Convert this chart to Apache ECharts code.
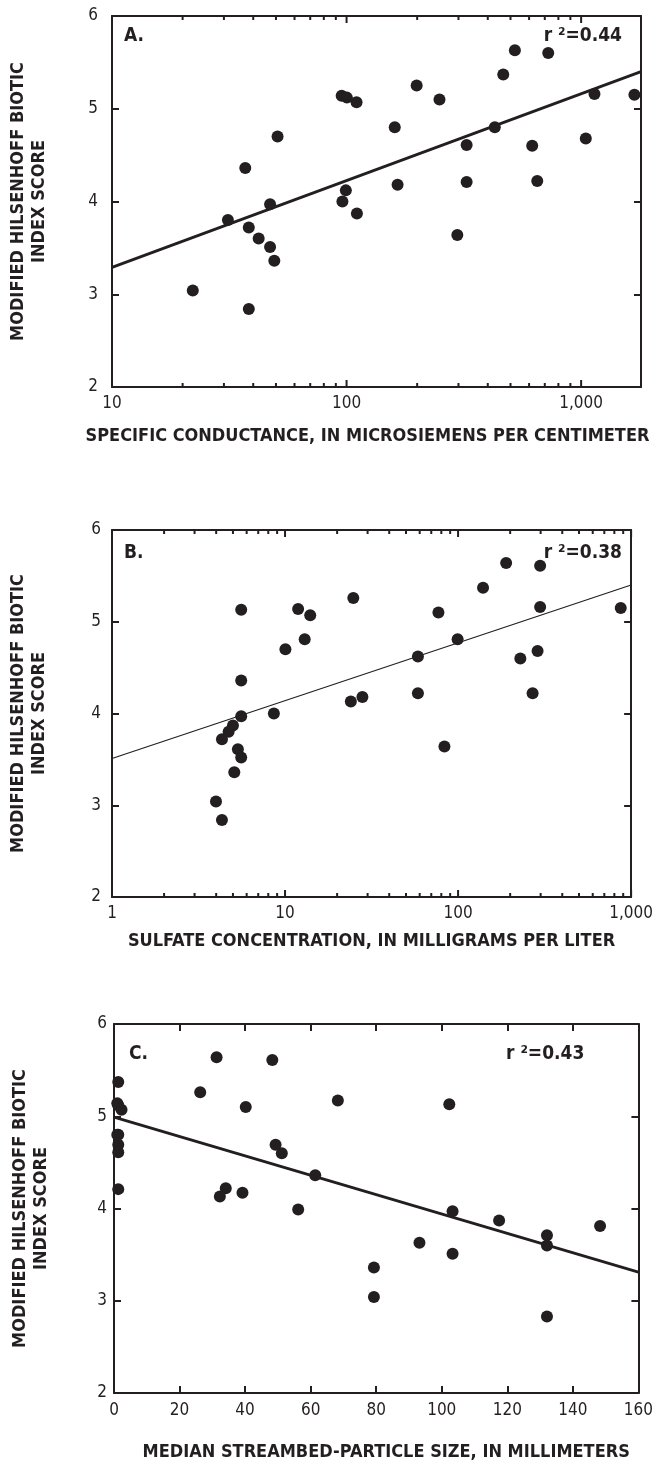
<!DOCTYPE html>
<html><head><meta charset="utf-8">
<script src="https://cdn.jsdelivr.net/npm/echarts@6/dist/echarts.min.js"></script>
<style>html,body{margin:0;padding:0;background:#fff}#c{width:656px;height:1467px}</style>
</head><body><div id="c"></div>
<script>
// ---- Data ----
const conductanceA = [22.1,31.2,37.0,38.3,38.3,42.2,47.2,47.2,49.2,50.8,95.3,100.3,110.3,96,99.3,110.7,160.5,165,199,249,296.6,325,325,428.5,465.6,521.9,618.6,650,724,1047,1140,1687];
const scoreA = [3.04,3.80,4.36,3.72,2.84,3.60,3.97,3.51,3.36,4.70,5.14,5.12,5.07,4.00,4.12,3.87,4.80,4.18,5.25,5.10,3.64,4.61,4.21,4.80,5.37,5.63,4.60,4.22,5.60,4.68,5.16,5.15];
const fitA_x = [10, 1800];
const fitA_y = [3.29, 5.40];

const sulfateB = [5.58,11.9,13.98,24.8,12.99,10.05,5.58,24.0,28.0,189.6,298,139.4,77.0,298,871,99.4,58.6,288,229,58.6,269.6,5.58,8.62,5.0,4.72,4.32,5.34,5.58,5.09,3.99,4.32,83.4];
const scoreB = [5.13,5.14,5.07,5.26,4.81,4.70,4.36,4.13,4.18,5.64,5.61,5.37,5.10,5.16,5.15,4.81,4.62,4.68,4.60,4.22,4.22,3.97,4.00,3.87,3.80,3.72,3.61,3.52,3.36,3.04,2.84,3.64];
const fitB_x = [1, 1000];
const fitB_y = [3.51, 5.40];

const sizeC = [1.3,1.0,1.3,2.3,1.3,1.0,1.3,1.3,1.3,31.3,48.3,26.3,40.2,68.3,49.3,51.2,61.4,34.1,32.3,39.2,56.2,102.3,103.3,117.5,148.3,132.1,132.1,132.1,93.2,103.3,79.3,79.3];
const scoreC = [5.37,5.14,5.12,5.07,4.80,4.80,4.69,4.61,4.21,5.64,5.61,5.26,5.10,5.17,4.69,4.60,4.36,4.22,4.13,4.17,3.99,5.13,3.97,3.87,3.81,3.71,3.60,2.83,3.63,3.51,3.36,3.04];
const fitC_x = [0, 160];
const fitC_y = [4.99, 3.31];

const labelsA = [10, 100, 1000];
const ticksA = [10,20,30,40,50,60,70,80,90,100,200,300,400,500,600,700,800,900,1000];
const labelsB = [1, 10, 100, 1000];
const ticksB = [1,2,3,4,5,6,7,8,9,10,20,30,40,50,60,70,80,90,100,200,300,400,500,600,700,800,900,1000];

const yTitle = 'MODIFIED HILSENHOFF BIOTIC\nINDEX SCORE';
const xTitleA = 'SPECIFIC CONDUCTANCE, IN MICROSIEMENS PER CENTIMETER';
const xTitleB = 'SULFATE CONCENTRATION, IN MILLIGRAMS PER LITER';
const xTitleC = 'MEDIAN STREAMBED-PARTICLE SIZE, IN MILLIMETERS';

// ---- Styling ----
const INK = '#231f20';
const FONT = '"Liberation Sans Narrow","Arial Narrow","DejaVu Sans Condensed",sans-serif';

const chart = echarts.init(document.getElementById('c'), null, {renderer: 'canvas'});

const grids = [
  {left: 111, top: 16, width: 530, height: 371},
  {left: 112, top: 530, width: 524, height: 367},
  {left: 114, top: 1024, width: 528, height: 369}
];

function fmtNum(v) { return v >= 1000 ? v.toLocaleString('en-US') : String(v); }
function isIn(list, v) { return list.some(t => Math.abs(t - v) / t < 1e-6); }

const axisLine = {show: true, onZero: false, lineStyle: {color: INK, width: 2}};
const xAxes = [], yAxes = [];

function addPanel(gi, type, min, max, labelList, name, nameGap, interval, labelMargin, namePad) {
  const base = {gridIndex: gi, type: type, min: min, max: max, splitLine: {show: false}, axisLine: axisLine};
  if (type === 'log') { base.logBase = 10; } else { base.interval = interval; }
  const tickCfg = type === 'log' ? {show: false} : {show: true, inside: true, length: 7, lineStyle: {color: INK, width: 2}};
  xAxes.push(Object.assign({}, base, {
    position: 'bottom',
    axisTick: tickCfg,
    axisLabel: {
      show: true, margin: labelMargin, color: INK, fontFamily: FONT, fontSize: 17,
      formatter: v => (type === 'log' ? (isIn(labelList, v) ? fmtNum(v) : '') : String(v))
    },
    name: name, nameLocation: 'middle', nameGap: nameGap,
    nameTextStyle: {color: INK, fontFamily: FONT, fontWeight: 'bold', fontSize: 18, padding: namePad}
  }));
  xAxes.push(Object.assign({}, base, {position: 'top', axisTick: tickCfg, axisLabel: {show: false}}));
  const yBase = {gridIndex: gi, type: 'value', min: 2, max: 6, interval: 1, splitLine: {show: false}, axisLine: axisLine,
    axisTick: {show: true, inside: true, length: 7, lineStyle: {color: INK, width: 2}}};
  yAxes.push(Object.assign({}, yBase, {
    position: 'left',
    axisLabel: {show: true, margin: [14, 11, 7][gi], color: INK, fontFamily: FONT, fontSize: 17},
    name: yTitle, nameLocation: 'middle', nameGap: 62,
    nameTextStyle: {color: INK, fontFamily: FONT, fontWeight: 'bold', fontSize: 18, lineHeight: 21, align: 'center'}
  }));
  yAxes.push(Object.assign({}, yBase, {position: 'right', axisLabel: {show: false}}));
}

addPanel(0, 'log', 10, 1800, labelsA, xTitleA, 40, null, 8, [0, 18, 0, 0]);
addPanel(1, 'log', 1, 1000, labelsB, xTitleB, 35, null, 8, [0, 0, 0, 0]);
addPanel(2, 'value', 0, 160, null, xTitleC, 50, 20, 9, [0, 0, 0, 20]);

function pairs(xs, ys) { return xs.map((x, i) => [x, ys[i]]); }

function scatterSeries(gi, xs, ys) {
  return {type: 'scatter', xAxisIndex: gi * 2, yAxisIndex: gi * 2, data: pairs(xs, ys),
    symbol: 'circle', symbolSize: 12, itemStyle: {color: INK, opacity: 1}, z: 3, silent: true};
}
function fitSeries(gi, xs, ys, w) {
  return {type: 'line', xAxisIndex: gi * 2, yAxisIndex: gi * 2, data: pairs(xs, ys),
    showSymbol: false, symbol: 'none', lineStyle: {color: INK, width: w}, z: 2, silent: true, clip: true};
}
function logTickSeries(gi, ticks, majors) {
  return {type: 'custom', xAxisIndex: gi * 2, yAxisIndex: gi * 2, silent: true, clip: false, z: 4,
    data: ticks.map(v => [v, 2, isIn(majors, v) ? 1 : 0]),
    encode: {x: 0, y: 1},
    renderItem: function (params, api) {
      const v = api.value(0);
      const major = api.value(2) === 1;
      const b = api.coord([v, 2]);
      const t = api.coord([v, 6]);
      const len = major ? 7 : 4;
      const style = {stroke: INK, lineWidth: 2};
      return {type: 'group', children: [
        {type: 'line', shape: {x1: b[0], y1: b[1], x2: b[0], y2: b[1] - len}, style: style},
        {type: 'line', shape: {x1: t[0], y1: t[1], x2: t[0], y2: t[1] + len}, style: style}
      ]};
    }
  };
}

const textStyleBold = {fill: INK, fontFamily: FONT, fontWeight: 'bold', fontSize: 19};

const option = {
  animation: false,
  backgroundColor: '#ffffff',
  grid: grids.map(g => Object.assign({containLabel: false}, g)),
  xAxis: xAxes,
  yAxis: yAxes,
  series: [
    fitSeries(0, fitA_x, fitA_y, 2.8),
    scatterSeries(0, conductanceA, scoreA),
    logTickSeries(0, ticksA, labelsA),
    fitSeries(1, fitB_x, fitB_y, 1.2),
    scatterSeries(1, sulfateB, scoreB),
    logTickSeries(1, ticksB, labelsB),
    fitSeries(2, fitC_x, fitC_y, 2.8),
    scatterSeries(2, sizeC, scoreC)
  ],
  graphic: [
    {type: 'text', left: 124, top: 27, style: Object.assign({text: 'A.'}, textStyleBold)},
    {type: 'text', left: 124, top: 544, style: Object.assign({text: 'B.'}, textStyleBold)},
    {type: 'text', left: 129, top: 1045, style: Object.assign({text: 'C.'}, textStyleBold)},
    {type: 'text', right: 34, top: 27, style: Object.assign({text: 'r \u00b2=0.44'}, textStyleBold)},
    {type: 'text', right: 34, top: 544, style: Object.assign({text: 'r \u00b2=0.38'}, textStyleBold)},
    {type: 'text', left: 506, top: 1045, style: Object.assign({text: 'r \u00b2=0.43'}, textStyleBold)}
  ]
};
chart.setOption(option);
</script>
</body></html>
